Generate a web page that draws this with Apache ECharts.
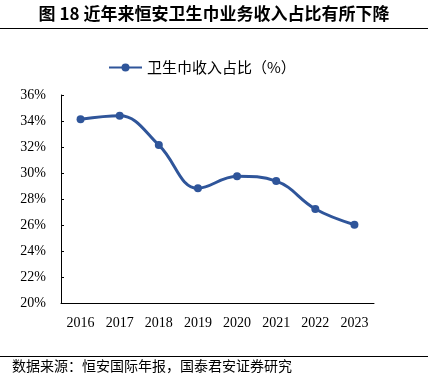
<!DOCTYPE html>
<html>
<head>
<meta charset="utf-8">
<script src="https://cdn.jsdelivr.net/npm/echarts@6/dist/echarts.min.js"></script>
<style>
  html, body { margin: 0; padding: 0; background: #fff; }
  #chart { width: 428px; height: 375px; }
</style>
</head>
<body>
<div id="chart"></div>
<script>
const years = ['2016', '2017', '2018', '2019', '2020', '2021', '2022', '2023']
const sharePct = [34.13, 34.4, 32.15, 28.82, 29.75, 29.38, 27.23, 26.02]
const seriesName = '卫生巾收入占比（%）'

const serif = '"Liberation Serif", "DejaVu Serif", serif'
const cjk = '"Noto Sans CJK SC", sans-serif'

const chart = echarts.init(document.getElementById('chart'))

chart.setOption({
  animation: false,
  backgroundColor: '#fff',
  graphic: [
    {
      type: 'text', left: 'center', top: 5,
      style: { text: '图 18 近年来恒安卫生巾业务收入占比有所下降', font: 'bold 17px ' + cjk, fill: '#000' }
    },
    { type: 'line', shape: { x1: 0, y1: 28.5, x2: 428, y2: 28.5 }, style: { stroke: '#000', lineWidth: 1.2 } },
    { type: 'line', shape: { x1: 0, y1: 356.5, x2: 428, y2: 356.5 }, style: { stroke: '#000', lineWidth: 1.2 } },
    {
      type: 'text', left: 12, top: 359,
      style: { text: '数据来源：恒安国际年报，国泰君安证券研究', font: '14px ' + cjk, fill: '#000' }
    }
  ],
  legend: {
    top: 55, left: 103,
    itemWidth: 33, itemHeight: 10, itemGap: 6,
    textStyle: { fontFamily: cjk, fontSize: 15, color: '#000' },
    data: [seriesName]
  },
  grid: { left: 61, right: 54, top: 95, bottom: 72 },
  xAxis: {
    type: 'category',
    data: years,
    axisLine: { lineStyle: { color: '#000', width: 1 } },
    axisTick: { show: false },
    axisLabel: { color: '#000', fontFamily: serif, fontSize: 14, margin: 13 }
  },
  yAxis: {
    type: 'value',
    min: 20, max: 36, interval: 2,
    splitLine: { show: false },
    axisLine: { show: true, lineStyle: { color: '#000', width: 1 } },
    axisTick: { show: true, inside: true, length: 3, lineStyle: { color: '#000' } },
    axisLabel: { color: '#000', fontFamily: serif, fontSize: 14, margin: 15, formatter: v => v + '%' }
  },
  series: [{
    name: seriesName,
    type: 'line',
    data: sharePct,
    smooth: 0.4,
    symbol: 'circle',
    symbolSize: 8,
    lineStyle: { color: '#2f559a', width: 3 },
    itemStyle: { color: '#2f559a' }
  }]
})
</script>
</body>
</html>
